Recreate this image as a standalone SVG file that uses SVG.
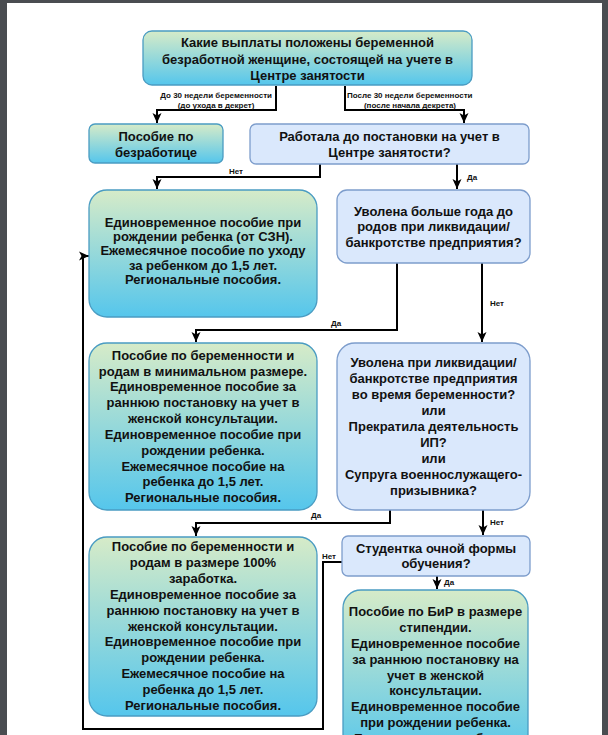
<svg xmlns="http://www.w3.org/2000/svg" width="608" height="735" viewBox="0 0 608 735">
<defs>
<linearGradient id="g" x1="0" y1="0" x2="0" y2="1">
<stop offset="0" stop-color="#d6ebc8"/>
<stop offset="1" stop-color="#55c6ec"/>
</linearGradient>
<marker id="ah" markerUnits="userSpaceOnUse" markerWidth="10" markerHeight="10" viewBox="0 0 10 10" refX="10" refY="5" orient="auto">
<path d="M0,0.5 L10,5 L0,9.5 L2.5,5 Z" fill="#000"/>
</marker>
<style>
.gr{fill:url(#g);stroke:#4a9cc2;stroke-width:1.3}
.bl{fill:#dae8fc;stroke:#7d9dcc;stroke-width:1.3}
.t{font-family:"Liberation Sans",Arial,sans-serif;font-weight:bold;font-size:13px;fill:#111;text-anchor:middle}
.s{font-family:"Liberation Sans",Arial,sans-serif;font-weight:bold;font-size:8px;fill:#111}
.c{fill:none;stroke:#000;stroke-width:2}
</style>
</defs>
<rect x="0" y="0" width="608" height="735" fill="#4a4d51"/>
<rect x="7" y="3" width="595" height="732" fill="#fff"/>

<g id="connectors">
<path class="c" d="M276,86 V110 H157 V123" marker-end="url(#ah)"/>
<path class="c" d="M345,86 V110 H464 V123" marker-end="url(#ah)"/>
<path class="c" d="M320,164 V177 H157 V189" marker-end="url(#ah)"/>
<path class="c" d="M457,164 V189" marker-end="url(#ah)"/>
<path class="c" d="M397,263 V330 H196 V342" marker-end="url(#ah)"/>
<path class="c" d="M482,263 V342" marker-end="url(#ah)"/>
<path class="c" d="M390,510 V523 H196 V536" marker-end="url(#ah)"/>
<path class="c" d="M483,510 V535" marker-end="url(#ah)"/>
<path class="c" d="M437,576 V589" marker-end="url(#ah)"/>
<path class="c" d="M342,562 H323 V729 H83 V256 H89" marker-end="url(#ah)"/>
<text class="s" x="272" y="98" text-anchor="end">До 30 недели беременности</text>
<text class="s" x="216" y="107.5" text-anchor="middle">(до ухода в декрет)</text>
<text class="s" x="347" y="98">После 30 недели беременности</text>
<text class="s" x="410" y="107.5" text-anchor="middle">(после начала декрета)</text>
<text class="s" x="229" y="174">Нет</text>
<text class="s" x="467" y="180">Да</text>
<text class="s" x="490" y="306">Нет</text>
<text class="s" x="331" y="326">Да</text>
<text class="s" x="311" y="518">Да</text>
<text class="s" x="490" y="525">Нет</text>
<text class="s" x="322" y="559">Нет</text>
<text class="s" x="444" y="585">Да</text>
</g>

<g id="n1">
<rect class="gr" x="143" y="31" width="329" height="54" rx="9"/>
<text class="t" x="307.5" y="47">Какие выплаты положены беременной</text>
<text class="t" x="307.5" y="63.5">безработной женщине, состоящей на учете в</text>
<text class="t" x="307.5" y="80">Центре занятости</text>
</g>

<g id="n2">
<rect class="gr" x="89" y="124" width="134" height="39" rx="6"/>
<text class="t" x="156" y="141">Пособие по</text>
<text class="t" x="156" y="156.5">безработице</text>
</g>

<g id="n3">
<rect class="bl" x="250" y="124" width="279" height="40" rx="6"/>
<text class="t" x="389.5" y="141">Работала до постановки на учет в</text>
<text class="t" x="389.5" y="156.5">Центре занятости?</text>
</g>

<g id="n4">
<rect class="gr" x="89" y="190" width="228" height="127" rx="18"/>
<text class="t" x="203" y="227">Единовременное пособие при</text>
<text class="t" x="203" y="241">рождении ребенка (от СЗН).</text>
<text class="t" x="203" y="255">Ежемесячное пособие по уходу</text>
<text class="t" x="203" y="269.5">за ребенком до 1,5 лет.</text>
<text class="t" x="203" y="283.5">Региональные пособия.</text>
</g>

<g id="n5">
<rect class="bl" x="337" y="190" width="193" height="73" rx="10"/>
<text class="t" x="433.5" y="216">Уволена больше года до</text>
<text class="t" x="433.5" y="231">родов при ликвидации/</text>
<text class="t" x="433.5" y="246.5">банкротстве предприятия?</text>
</g>

<g id="n6">
<rect class="gr" x="89" y="343" width="228" height="167" rx="18"/>
<text class="t" x="203" y="359.5">Пособие по беременности и</text>
<text class="t" x="203" y="375.5">родам в минимальном размере.</text>
<text class="t" x="203" y="391">Единовременное пособие за</text>
<text class="t" x="203" y="407">раннюю постановку на учет в</text>
<text class="t" x="203" y="422.5">женской консультации.</text>
<text class="t" x="203" y="438.5">Единовременное пособие при</text>
<text class="t" x="203" y="454.5">рождении ребенка.</text>
<text class="t" x="203" y="470.5">Ежемесячное пособие на</text>
<text class="t" x="203" y="486">ребенка до 1,5 лет.</text>
<text class="t" x="203" y="502">Региональные пособия.</text>
</g>

<g id="n7">
<rect class="bl" x="337" y="343" width="193" height="167" rx="18"/>
<text class="t" x="433.5" y="367">Уволена при ликвидации/</text>
<text class="t" x="433.5" y="383">банкротстве предприятия</text>
<text class="t" x="433.5" y="398.5">во время беременности?</text>
<text class="t" x="433.5" y="414.5">или</text>
<text class="t" x="433.5" y="431">Прекратила деятельность</text>
<text class="t" x="433.5" y="447">ИП?</text>
<text class="t" x="433.5" y="463">или</text>
<text class="t" x="433.5" y="479">Супруга военнослужащего-</text>
<text class="t" x="433.5" y="494.5">призывника?</text>
</g>

<g id="n8">
<rect class="bl" x="342" y="536" width="188" height="40" rx="6"/>
<text class="t" x="436" y="552.5">Студентка очной формы</text>
<text class="t" x="436" y="568">обучения?</text>
</g>

<g id="n9">
<rect class="gr" x="89" y="537" width="228" height="179" rx="18"/>
<text class="t" x="203" y="550.5">Пособие по беременности и</text>
<text class="t" x="203" y="566.5">родам в размере 100%</text>
<text class="t" x="203" y="582.5">заработка.</text>
<text class="t" x="203" y="598.5">Единовременное пособие за</text>
<text class="t" x="203" y="614.5">раннюю постановку на учет в</text>
<text class="t" x="203" y="630.5">женской консультации.</text>
<text class="t" x="203" y="646">Единовременное пособие при</text>
<text class="t" x="203" y="662">рождении ребенка.</text>
<text class="t" x="203" y="678">Ежемесячное пособие на</text>
<text class="t" x="203" y="694">ребенка до 1,5 лет.</text>
<text class="t" x="203" y="709.5">Региональные пособия.</text>
</g>

<g id="n10">
<rect class="gr" x="343" y="590" width="185" height="170" rx="18"/>
<text class="t" x="435.5" y="616">Пособие по БиР в размере</text>
<text class="t" x="435.5" y="632">стипендии.</text>
<text class="t" x="435.5" y="648">Единовременное пособие</text>
<text class="t" x="435.5" y="664">за раннюю постановку на</text>
<text class="t" x="435.5" y="679.5">учет в женской</text>
<text class="t" x="435.5" y="695">консультации.</text>
<text class="t" x="435.5" y="711">Единовременное пособие</text>
<text class="t" x="435.5" y="727">при рождении ребенка.</text>
<text class="t" x="435.5" y="743">Ежемесячное пособие на</text>
</g>
</svg>
